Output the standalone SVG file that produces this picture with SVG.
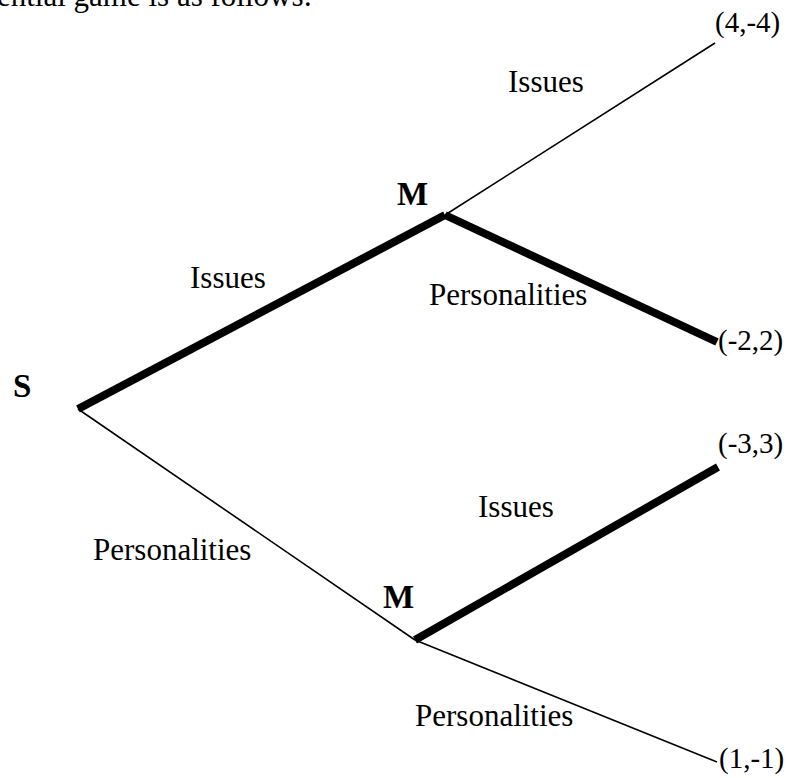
<svg xmlns="http://www.w3.org/2000/svg" width="793" height="778" viewBox="0 0 793 778">
<style>
.t{font-family:"Liberation Serif","Times New Roman",serif;font-size:31px;fill:#000}
.lf{font-family:"Liberation Serif","Times New Roman",serif;font-size:29px;fill:#000}
.b{font-family:"Liberation Serif","Times New Roman",serif;font-size:33px;font-weight:bold;fill:#000}
.thin{stroke:#000;stroke-width:1.6;fill:none}
.thick{stroke:#000;stroke-width:8;fill:none}
</style>
<rect width="793" height="778" fill="#fff"/>
<text class="t" x="-3" y="6">ential game is as follows:</text>
<g id="connectors">
<line class="thick" x1="78" y1="409" x2="445" y2="215"/>
<line class="thin" x1="78" y1="409" x2="415" y2="640"/>
<line class="thin" x1="445" y1="215" x2="715" y2="43"/>
<line class="thick" x1="445" y1="215" x2="717" y2="342"/>
<line class="thick" x1="415" y1="640" x2="718" y2="467"/>
<line class="thin" x1="415" y1="640" x2="717" y2="762"/>
<text class="t" x="190" y="288">Issues</text>
<text class="t" x="93" y="560">Personalities</text>
<text class="t" x="508" y="92">Issues</text>
<text class="t" x="429" y="305">Personalities</text>
<text class="t" x="478" y="517">Issues</text>
<text class="t" x="415" y="726">Personalities</text>
</g>
<g id="node-S"><text class="b" x="13" y="397">S</text></g>
<g id="node-M1"><text class="b" x="397" y="205">M</text></g>
<g id="node-M2"><text class="b" x="383" y="608">M</text></g>
<g id="leaf-1"><text class="lf" x="715" y="32">(4,-4)</text></g>
<g id="leaf-2"><text class="lf" x="718" y="350">(-2,2)</text></g>
<g id="leaf-3"><text class="lf" x="718" y="453">(-3,3)</text></g>
<g id="leaf-4"><text class="lf" x="719" y="768">(1,-1)</text></g>
</svg>
